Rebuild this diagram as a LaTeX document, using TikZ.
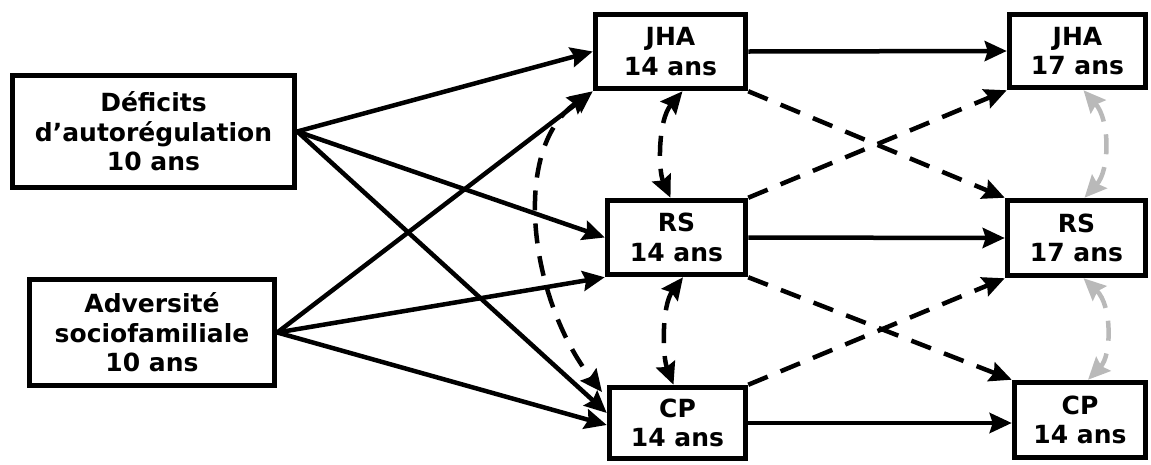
\documentclass[tikz,border=0pt]{standalone}
\usepackage{fontspec}
\setmainfont{DejaVu Sans}
\usetikzlibrary{arrows.meta,calc}
\begin{document}
\begin{tikzpicture}[x=1pt,y=-1pt,
  tip/.tip={Stealth[length=22pt,width=20pt,inset=3pt]},
  box/.style={draw, line width=5.5pt, fill=white, align=center, inner sep=0pt,
    font=\bfseries\fontsize{25}{29.5}\selectfont},
  conn/.style={line width=4.5pt, -tip},
  dconn/.style={conn, dash pattern=on 21pt off 14pt},
  ddconn/.style={line width=4.5pt, dash pattern=on 20pt off 13pt, tip-tip},
  gconn/.style={ddconn, draw=gray!55}
]
\useasboundingbox (0,0) rectangle (1151,464);
\node[box, minimum width=282pt, minimum height=112pt] (def) at (153.5,131.5) {Déficits\\d’autorégulation\\10 ans};
\node[box, minimum width=245pt, minimum height=106pt] (adv) at (152,332.5) {Adversité\\sociofamiliale\\10 ans};
\node[box, minimum width=150pt, minimum height=74pt] (jha14) at (670.5,51.5) {JHA\\14 ans};
\node[box, minimum width=138pt, minimum height=74pt] (rs14) at (676.5,237.5) {RS\\14 ans};
\node[box, minimum width=136pt, minimum height=71pt] (cp14) at (677.5,423) {CP\\14 ans};
\node[box, minimum width=136pt, minimum height=73pt] (jha17) at (1077.5,51) {JHA\\17 ans};
\node[box, minimum width=138pt, minimum height=75pt] (rs17) at (1076.5,238) {RS\\17 ans};
\node[box, minimum width=131pt, minimum height=75pt] (cp17) at (1080,420) {CP\\14 ans};

% solid paths from predictors
\draw[conn] (def.east) -- (jha14.west);
\draw[conn] (def.east) -- (rs14.west);
\draw[conn] (def.east) -- ([yshift=10pt]cp14.west);
\draw[conn] (adv.east) -- (jha14.south west);
\draw[conn] (adv.east) -- (rs14.south west);
\draw[conn] (adv.east) -- ([yshift=-2pt]cp14.west);

% stability paths
\draw[conn] (jha14.east) -- (jha17.west);
\draw[conn] (rs14.east) -- (rs17.west);
\draw[conn] (cp14.east) -- (cp17.west |- cp14.east);

% cross-lagged dashed
\draw[dconn] (jha14.south east) -- (rs17.north west);
\draw[dconn] (rs14.north east) -- (jha17.south west);
\draw[dconn] (rs14.south east) -- (cp17.north west);
\draw[dconn] (cp14.north east) -- (rs17.south west);

% correlations at 14
\draw[ddconn] ([xshift=12pt]jha14.south) .. controls (658,120) and (658,170) .. ([xshift=-6pt]rs14.north);
\draw[ddconn] ([xshift=6.5pt]rs14.south) .. controls (662,305) and (662,355) .. ([xshift=-4pt]cp14.north);
\coordinate (ctop) at (590,93);
\coordinate (cbot) at (602,392);
\draw[ddconn] (ctop) .. controls (510,150) and (530,300) .. (cbot);

% correlations at 17
\draw[gconn] ([xshift=6pt]jha17.south) .. controls (1110,120) and (1110,170) .. ([xshift=8pt]rs17.north);
\draw[gconn] ([xshift=7pt]rs17.south) .. controls (1112,305) and (1112,355) .. ([xshift=8pt]cp17.north);
\end{tikzpicture}
\end{document}
